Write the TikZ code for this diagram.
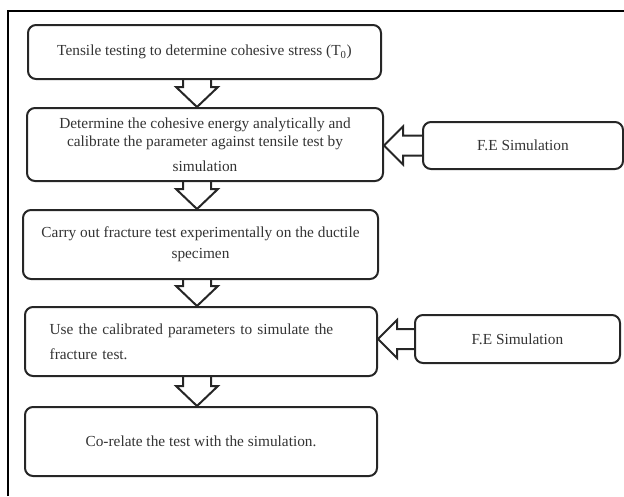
\documentclass[tikz,border=0pt]{standalone}
\usepackage{fontspec}
\setmainfont{Liberation Serif}
\usetikzlibrary{calc}

\tikzset{
	stepbox/.style={draw=black!85, line width=1.5pt, rounded corners=6pt, align=center, inner sep=0pt, font=\fontsize{11.5}{13.5}\selectfont, text=black!80},
	hollow/.style={draw=black!85, line width=1.5pt, line join=miter},
}

% hollow arrow downwards from box #1 to box #2
\newcommand{\hollowdown}[2]{%
	\coordinate (dtop) at (197,0 |- #1.south);
	\coordinate (dtip) at (197,0 |- #2.north);
	\draw[hollow] ($(dtop)+(-14,0)$) -- ($(dtip)+(-14,20)$) -- ($(dtip)+(-21,20)$) -- (dtip) -- ($(dtip)+(21,20)$) -- ($(dtip)+(14,20)$) -- ($(dtop)+(14,0)$);
}
% hollow arrow leftwards from box #1 to box #2
\newcommand{\hollowleft}[2]{%
	\coordinate (ltail) at (#1.west);
	\coordinate (ltip) at (#2.east |- #1.west);
	\draw[hollow] ($(ltail)+(0,10)$) -- ($(ltip)+(19,10)$) -- ($(ltip)+(19,19)$) -- (ltip) -- ($(ltip)+(19,-19)$) -- ($(ltip)+(19,-10)$) -- ($(ltail)+(0,-10)$);
}

\begin{document}
\begin{tikzpicture}[x=0.75pt, y=0.75pt]
			%%%%% START %%%%%
			\useasboundingbox (0,0) rectangle (624,-496);
			
			\draw[line width=2pt] (8,-496) -- (8,-11) -- (624,-11);
			
			\node[stepbox, minimum width=264.75pt, minimum height=40.5pt] (s1) at (204.5,-52) {Tensile testing to determine cohesive stress (T\textsubscript{0})};
			
			\node[stepbox, minimum width=267pt, minimum height=54.75pt] (s2) at (205,-144.5) {Determine the cohesive energy analytically and\\ calibrate the parameter against tensile test by\\[5pt] simulation};
			
			\node[stepbox, minimum width=266.25pt, minimum height=51.75pt] (s3) at (200.5,-244.5) {Carry out fracture test experimentally on the ductile\\[2pt] specimen};
			
			\node[stepbox, minimum width=264pt, minimum height=51.75pt, text width=227pt, inner xsep=18.5pt, align=left] (s4) at (201,-341.5) {Use the calibrated parameters to simulate the\\[5pt] fracture test.\\[3pt]};
			
			\node[stepbox, minimum width=264pt, minimum height=51.75pt] (s5) at (201,-441.5) {Co-relate the test with the simulation.};
			
			\node[stepbox, minimum width=150pt, minimum height=35.25pt] (fe1) at (523,-145.5) {F.E Simulation};
			\node[stepbox, minimum width=153.75pt, minimum height=36pt] (fe2) at (517.5,-339) {F.E Simulation};
			
			\hollowdown{s1}{s2}
			\hollowdown{s2}{s3}
			\hollowdown{s3}{s4}
			\hollowdown{s4}{s5}
			
			\hollowleft{fe1}{s2}
			\hollowleft{fe2}{s4}
			
			%%%%% END %%%%%
\end{tikzpicture}
\end{document}
